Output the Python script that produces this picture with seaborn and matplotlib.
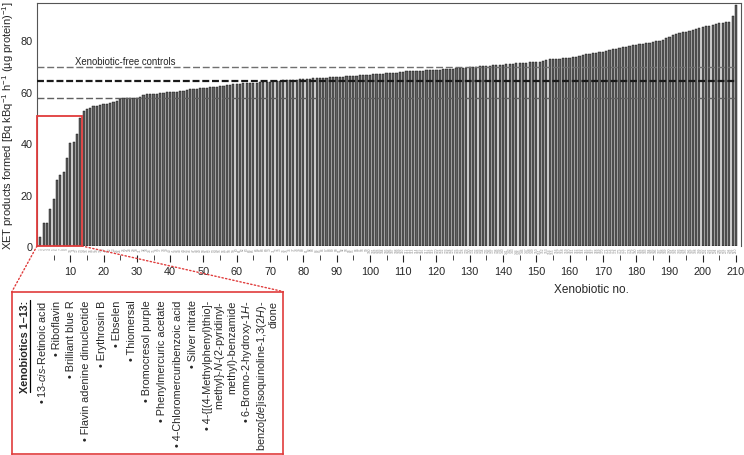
import numpy as np
import matplotlib
matplotlib.use("Agg")
import matplotlib.pyplot as plt
from matplotlib.patches import Rectangle, ConnectionPatch
import seaborn as sns

# ── Data ──────────────────────────────────────────────────────────────────
xeno_no = np.arange(1, 211)
xet_values = [
    3.5, 9.0, 9.1, 14.5, 18.2, 25.7, 27.4, 28.7, 34.0, 40.2,
    40.5, 43.5, 49.6, 52.5, 53.2, 53.8, 54.2, 54.5, 54.8, 55.0,
    55.1, 55.5, 56.0, 56.5, 57.0, 57.4, 57.5, 57.5, 57.6, 57.6,
    57.7, 58.8, 58.9, 59.0, 59.1, 59.2, 59.4, 59.6, 59.7, 59.8,
    59.9, 60.0, 60.2, 60.4, 60.6, 60.8, 61.0, 61.1, 61.2, 61.4,
    61.5, 61.6, 61.7, 61.8, 62.0, 62.2, 62.4, 62.6, 62.8, 63.0,
    63.1, 63.2, 63.2, 63.3, 63.4, 63.5, 63.6, 63.7, 63.8, 63.9,
    64.0, 64.1, 64.2, 64.3, 64.4, 64.5, 64.6, 64.6, 64.7, 64.8,
    64.9, 65.0, 65.1, 65.2, 65.3, 65.4, 65.4, 65.5, 65.6, 65.6,
    65.7, 65.8, 65.9, 66.0, 66.1, 66.2, 66.3, 66.4, 66.5, 66.6,
    66.7, 66.8, 66.9, 67.0, 67.1, 67.2, 67.3, 67.4, 67.6, 67.7,
    67.8, 67.8, 67.9, 68.0, 68.0, 68.1, 68.2, 68.3, 68.4, 68.4,
    68.5, 68.6, 68.7, 68.8, 68.9, 69.0, 69.1, 69.2, 69.3, 69.4,
    69.5, 69.6, 69.8, 69.9, 70.0, 70.1, 70.2, 70.3, 70.4, 70.5,
    70.6, 70.7, 70.8, 70.9, 71.0, 71.1, 71.2, 71.3, 71.4, 71.5,
    71.6, 71.8, 72.2, 72.6, 72.7, 72.8, 72.8, 72.9, 72.9, 73.0,
    73.3, 73.6, 73.9, 74.2, 74.5, 74.7, 74.9, 75.0, 75.2, 75.5,
    75.8, 76.1, 76.4, 76.7, 77.0, 77.3, 77.5, 77.8, 78.0, 78.2,
    78.4, 78.6, 78.8, 79.0, 79.2, 79.5, 79.7, 80.2, 80.8, 81.3,
    81.8, 82.2, 82.6, 83.0, 83.3, 83.6, 83.9, 84.3, 84.7, 85.0,
    85.3, 85.6, 85.9, 86.2, 86.5, 86.7, 86.9, 87.1, 89.4, 93.6,
]

# xenobiotic-free controls: upper, mean, lower
control_levels = [69.6, 64.2, 57.5]
highlight_n = 13
highlight_top = 50.5

x_major = list(range(10, 211, 10))
x_minor = list(range(5, 211, 10))
y_ticks = [0, 20, 40, 60, 80]

inset_header = "Xenobiotics 1\u201313:"
inset_labels = [
    "\u2022 13-$\\mathit{cis}$-Retinoic acid",
    "\u2022 Riboflavin",
    "\u2022 Brilliant blue R",
    "\u2022 Flavin adenine dinucleotide",
    "\u2022 Erythrosin B",
    "\u2022 Ebselen",
    "\u2022 Thiomersal",
    "\u2022 Bromocresol purple",
    "\u2022 Phenylmercuric acetate",
    "\u2022 4-Chloromercuribenzoic acid",
    "\u2022 Silver nitrate",
    "\u2022 4-{[(4-Methylphenyl)thio]-\nmethyl}-$\\mathit{N}$-(2-pyridinyl-\nmethyl)-benzamide",
    "\u2022 6-Bromo-2-hydroxy-1$\\mathit{H}$-\nbenzo[$\\mathit{de}$]isoquinoline-1,3(2$\\mathit{H}$)-\ndione",
]

# ── Style ─────────────────────────────────────────────────────────────────
sns.set_style("white")
plt.rcParams['font.family'] = ['Liberation Sans', 'DejaVu Sans']
plt.rcParams['mathtext.fontset'] = 'custom'
plt.rcParams['mathtext.rm'] = 'Liberation Sans'
plt.rcParams['mathtext.it'] = 'Liberation Sans:italic'
plt.rcParams['mathtext.bf'] = 'Liberation Sans:bold'
plt.rcParams['lines.scale_dashes'] = False

red = '#e03c3c'
W, H = 744, 456

fig = plt.figure(figsize=(W / 100, H / 100), dpi=100)
ax = fig.add_axes([37 / W, 1 - 247 / H, 704 / W, 243 / H])

# ── Bars ──────────────────────────────────────────────────────────────────
sns.barplot(x=xeno_no, y=xet_values, native_scale=True, color='#626262',
            saturation=1, edgecolor='black', linewidth=0.3, width=0.66,
            errorbar=None, ax=ax)
ax.set_xlim(0, 211.5)
ax.set_ylim(0, 94.4)

# tiny per-bar labels under the bars
for i in xeno_no:
    ax.text(i, -0.004, str(i), transform=ax.get_xaxis_transform(),
            rotation=90, fontsize=2.3, color='#8a8a8a', ha='center',
            va='top', clip_on=False)

# ── Control lines ─────────────────────────────────────────────────────────
ax.axhline(control_levels[0], xmax=0.993, color='#707070', lw=1.0,
           ls=(0, (5, 2)), zorder=3)
ax.axhline(control_levels[1], xmax=0.993, color='#1a1a1a', lw=1.6,
           ls=(0, (5, 2)), zorder=3)
ax.axhline(control_levels[2], xmax=0.993, color='#606060', lw=1.0,
           ls=(0, (5, 2)), zorder=3)
ax.text(11.5, control_levels[0] + 0.3, 'Xenobiotic-free controls',
        fontsize=6.9, va='bottom', ha='left')

# ── Axes styling ──────────────────────────────────────────────────────────
for s in ['top', 'right', 'left']:
    ax.spines[s].set_color('#555555')
    ax.spines[s].set_linewidth(0.8)
ax.spines['bottom'].set_position(('outward', 6.5))
ax.spines['bottom'].set_visible(False)

ax.set_yticks(y_ticks)
ax.tick_params(axis='y', length=0, pad=3, labelsize=7.8)
ax.set_xticks(x_major)
ax.set_xticks(x_minor, minor=True)
ax.tick_params(axis='x', which='major', length=5, width=0.8, pad=3,
               labelsize=7.8, bottom=True, color='#222222')
ax.tick_params(axis='x', which='minor', length=3.5, width=0.7,
               bottom=True, color='#444444')

ax.set_xlabel('Xenobiotic no.', fontsize=8.5)
ax.xaxis.set_label_coords(0.787, -0.152)
ax.set_ylabel(r'XET products formed [Bq kBq$^{-1}$ h$^{-1}$ (µg protein)$^{-1}$]',
              fontsize=8)
ax.yaxis.set_label_coords(-0.030, 0.5)

# ── Highlight of xenobiotics 1–13 ─────────────────────────────────────────
ax.add_patch(Rectangle((0, 0), highlight_n + 0.5, highlight_top, fill=False,
                       ec=red, lw=1.3, clip_on=False, zorder=4))

ax2 = fig.add_axes([12 / W, 1.5 / H, 271 / W, 162 / H])
ax2.set_xticks([])
ax2.set_yticks([])
for s in ax2.spines.values():
    s.set_color(red)
    s.set_linewidth(1.2)

for xa, xb in [(0, 0), (highlight_n + 0.5, 1)]:
    con = ConnectionPatch(xyA=(xa, 0), coordsA=ax.transData,
                          xyB=(xb, 1), coordsB=ax2.transAxes,
                          ls=':', color=red, lw=1.0)
    fig.add_artist(con)

label_px = [42, 57, 71, 86, 102, 117, 132, 147, 162, 178, 193, 220, 259.5]
top_y = (455 - 301) / 162
hdr = ax2.text((25 - 12) / 271, top_y, inset_header, rotation=90,
               fontsize=7.8, fontweight='bold', ha='center', va='top')
for lab, px in zip(inset_labels, label_px):
    ax2.text((px - 12) / 271, top_y, lab, rotation=90, fontsize=7.8,
             ha='center', va='top', multialignment='right', linespacing=1.05)

# underline the header (baseline side of the rotated text)
fig.canvas.draw()
bb = hdr.get_window_extent().transformed(fig.transFigure.inverted())
fig.add_artist(plt.Line2D([bb.x1 - 0.0005, bb.x1 - 0.0005], [bb.y0, bb.y1],
                          color='black', lw=0.9, transform=fig.transFigure))

fig.savefig("out.png", dpi=100)
